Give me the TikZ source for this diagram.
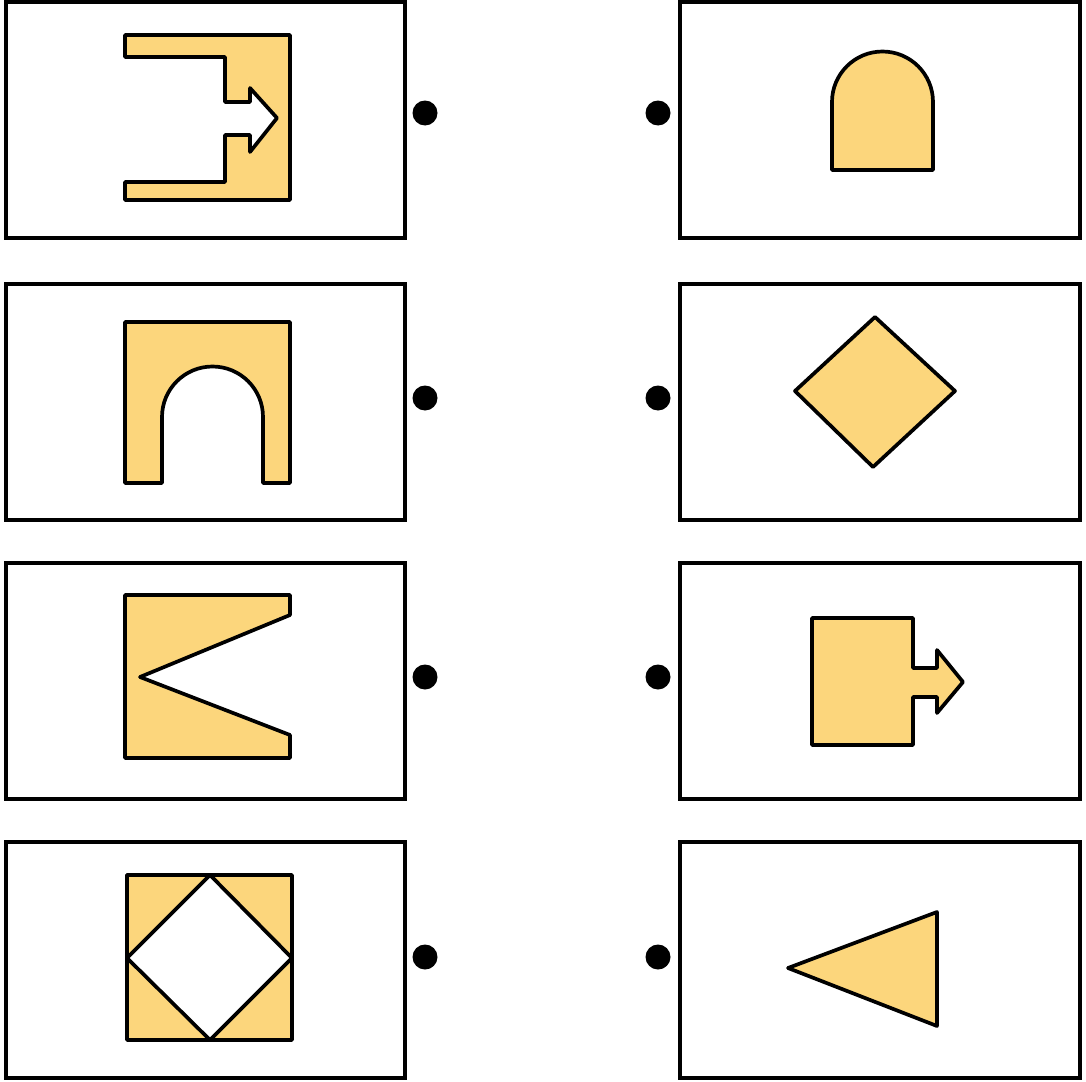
\documentclass[tikz,border=0pt]{standalone}
\usepackage{tikz}

\definecolor{shapefill}{RGB}{252,214,124}

\begin{document}
\begin{tikzpicture}[x=0.02cm, y=-0.02cm,
    panel/.style={draw=black, line width=2.1pt},
    figure/.style={draw=black, fill=shapefill, line width=2.1pt, line join=round},
    hole/.style={draw=black, fill=white, line width=2.1pt, line join=round},
    dot/.style={circle, fill=black, inner sep=0pt, minimum size=0.5cm}]

    \useasboundingbox (0,0) rectangle (1086,1082);

    % Panels
    \foreach \y in {2,284,563,842} {
        \draw[panel] (6,\y) rectangle (405,\y+236);
        \draw[panel] (680,\y) rectangle (1080,\y+236);
    }

    % Dots
    \node[dot] (l1) at (425,113) {};
    \node[dot] (l2) at (425,398) {};
    \node[dot] (l3) at (425,677) {};
    \node[dot] (l4) at (425,957) {};
    \node[dot] (r1) at (658,113) {};
    \node[dot] (r2) at (658,398) {};
    \node[dot] (r3) at (658,677) {};
    \node[dot] (r4) at (658,957) {};

    % Left 1: bracket with arrow
    \draw[figure] (125,35) -- (290,35) -- (290,200) -- (125,200) -- (125,182)
        -- (225,182) -- (225,135) -- (250,135) -- (250,152) -- (277,118)
        -- (250,88) -- (250,102) -- (225,102) -- (225,57) -- (125,57) -- cycle;

    % Left 2: arch
    \draw[figure] (125,483) -- (125,322) -- (290,322) -- (290,483) -- (263,483)
        -- (263,417) arc[start angle=0, end angle=-180, radius=50.5]
        -- (162,483) -- cycle;

    % Left 3: notched block
    \draw[figure] (125,595) -- (290,595) -- (290,615) -- (140,677) -- (290,735)
        -- (290,758) -- (125,758) -- cycle;

    % Left 4: square with diamond hole
    \draw[figure] (127,875) rectangle (292,1040);
    \draw[hole] (210,875) -- (292,958) -- (210,1040) -- (127,958) -- cycle;

    % Right 1: bullet
    \draw[figure] (832,170) -- (832,102) arc[start angle=180, end angle=360, radius=50.5]
        -- (933,170) -- cycle;

    % Right 2: diamond
    \draw[figure] (875,317) -- (955,391) -- (873,467) -- (795,391) -- cycle;

    % Right 3: square with arrow
    \draw[figure] (812,618) -- (913,618) -- (913,668) -- (937,668) -- (937,650)
        -- (963,682) -- (937,713) -- (937,697) -- (913,697) -- (913,745)
        -- (812,745) -- cycle;

    % Right 4: triangle
    \draw[figure] (788,968) -- (937,912) -- (937,1026) -- cycle;

\end{tikzpicture}
\end{document}
